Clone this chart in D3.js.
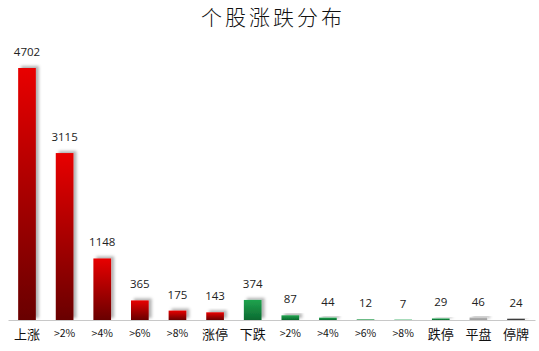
<!DOCTYPE html>
<html>
<head>
<meta charset="utf-8">
<script src="https://cdn.jsdelivr.net/npm/d3@7"></script>
<style>
  body { margin: 0; background: #fff; }
  svg { display: block; }
</style>
</head>
<body>
<svg id="chart"></svg>
<script>
var width = 539,
    height = 351;

var categories = ["上涨", ">2%", ">4%", ">6%", ">8%", "涨停", "下跌", ">2%", ">4%", ">6%", ">8%", "跌停", "平盘", "停牌"];
var values = [4702, 3115, 1148, 365, 175, 143, 374, 87, 44, 12, 7, 29, 46, 24];
var groups = ["up", "up", "up", "up", "up", "up", "down", "down", "down", "down", "down", "down", "flat", "halt"];
var title = "个股涨跌分布";

var margin = {top: 68, right: 4, bottom: 31, left: 8};

var svg = d3.select("#chart")
    .attr("width", width)
    .attr("height", height);

var defs = svg.append("defs");

// gradients per group
var grads = {
  up: ["#e80000", "#690000"],
  down: ["#1fa34e", "#0b6a30"],
  flat: ["#b0b0b0", "#a0a0a0"],
  halt: ["#4a4a4a", "#333333"]
};
Object.keys(grads).forEach(function(k) {
  var g = defs.append("linearGradient")
      .attr("id", "grad_" + k)
      .attr("x1", 0).attr("y1", 0).attr("x2", 0).attr("y2", 1);
  g.append("stop").attr("offset", "0%").attr("stop-color", grads[k][0]);
  g.append("stop").attr("offset", "100%").attr("stop-color", grads[k][1]);
});

var f = defs.append("filter")
    .attr("id", "shadow")
    .attr("x", "-50%").attr("y", "-50%")
    .attr("width", "200%").attr("height", "200%");
f.append("feDropShadow")
    .attr("dx", 3).attr("dy", -2)
    .attr("stdDeviation", 1.8)
    .attr("flood-color", "#000")
    .attr("flood-opacity", 0.3);

var x = d3.scaleBand()
    .domain(d3.range(categories.length))
    .range([margin.left, width - margin.right])
    .paddingInner(0.53)
    .paddingOuter(0.27);

var y = d3.scaleLinear()
    .domain([0, d3.max(values)])
    .range([height - margin.bottom, margin.top]);

svg.append("text")
    .attr("x", 273)
    .attr("y", 25)
    .attr("text-anchor", "middle")
    .style("font-family", "'Noto Sans CJK SC', sans-serif")
    .style("font-size", "21px")
    .style("font-weight", 300)
    .style("letter-spacing", "3px")
    .style("fill", "#111")
    .text(title);

svg.selectAll(".bar")
    .data(values)
  .enter().append("rect")
    .attr("class", "bar")
    .attr("x", function(d, i) { return x(i); })
    .attr("y", function(d) { return y(d); })
    .attr("width", x.bandwidth())
    .attr("height", function(d) { return y(0) - y(d); })
    .attr("fill", function(d, i) { return "url(#grad_" + groups[i] + ")"; })
    .attr("filter", "url(#shadow)");

svg.selectAll(".val")
    .data(values)
  .enter().append("text")
    .attr("class", "val")
    .attr("x", function(d, i) { return x(i) + x.bandwidth() / 2; })
    .attr("y", function(d) { return y(d) - 12; })
    .attr("text-anchor", "middle")
    .style("font-family", "'Open Sans', sans-serif")
    .style("font-size", "11.5px")
    .style("fill", "#222")
    .text(function(d) { return d; });

var axis = d3.axisBottom(x)
    .tickSize(0)
    .tickPadding(10)
    .tickFormat(function(i) { return categories[i]; });

var ax = svg.append("g")
    .attr("transform", "translate(0," + y(0) + ")")
    .call(axis);
ax.select(".domain").attr("stroke", "#c8c8c8");
ax.selectAll("text")
    .style("font-family", "'Noto Sans CJK SC', sans-serif")
    .style("font-size", function(i) { return /%/.test(categories[i]) ? "10.5px" : "13px"; })
    .style("fill", "#111");
</script>
</body>
</html>
